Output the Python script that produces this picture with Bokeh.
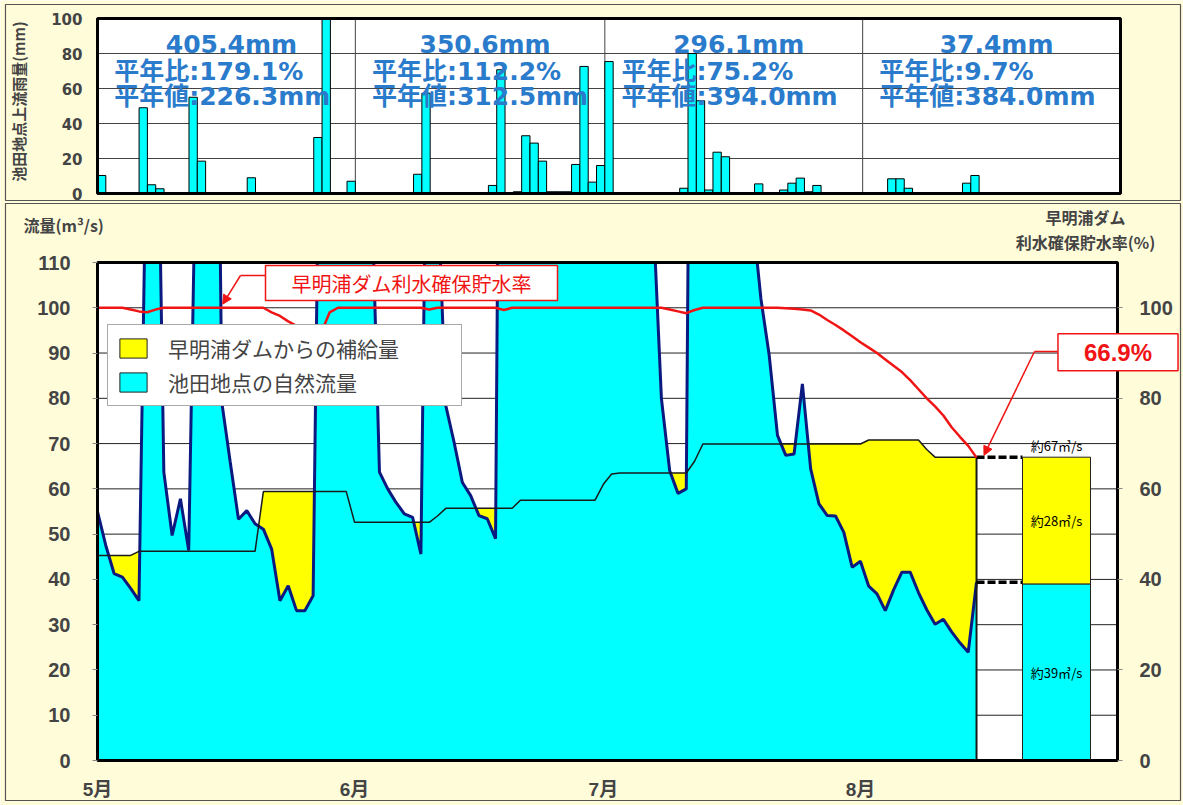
import numpy as np
from bokeh.plotting import figure
from bokeh.models import (Range1d, LinearAxis, FixedTicker, Label, Legend, LegendItem,
                          Arrow, NormalHead)
from bokeh.core.properties import value
from bokeh.embed import file_html
from bokeh.resources import INLINE

# ---------------- data ----------------
month_labels = ["5月", "6月", "7月", "8月"]
month_start_day = [0, 31, 61, 92]
month_length = [31, 30, 31, 31]

# daily rainfall upstream of Ikeda (mm)
rain_may = [10.3, 0, 0, 0, 0, 49, 5, 2.7, 0, 0, 0, 55, 18.5, 0, 0, 0, 0, 0, 9, 0,
            0, 0, 0, 0, 0, 0, 32, 217, 0, 0, 7]
rain_jun = [0, 0, 0, 0, 0, 0, 0, 11, 57.3, 0, 0, 0.5, 0, 0.5, 0, 0, 4.6, 70.7, 0, 1,
            33, 28.8, 18.5, 1, 1, 1, 16.6, 72.6, 6.5, 16]
rain_jul = [75.4, 0, 0, 0, 0, 0, 0, 0, 0, 3, 80, 53, 2, 23.6, 21, 0, 0, 0, 5.5, 0,
            0, 2, 5.9, 8.8, 1, 4.6, 0, 0, 0, 0, 0]
rain_aug = [0, 0, 0, 8.4, 8.4, 3, 0, 0, 0, 0, 0, 0, 5.9, 10.3, 0]

month_total_mm = [405.4, 350.6, 296.1, 37.4]
month_ratio_pct = [179.1, 112.2, 75.2, 9.7]
month_normal_mm = [226.3, 312.5, 394.0, 384.0]

# natural flow at Ikeda (m3/s)
natural_may = [55, 47.5, 41.3, 40.5, 38, 35.3, 150, 180, 63.7, 49.7, 57.8, 46.4, 150, 250,
               250, 79, 66, 53.3, 55.2, 52.3, 51.1, 46.7, 35.3, 38.6, 33.1, 33.1, 36.4, 183,
               400, 300, 220]
natural_jun = [180, 150, 131, 63.7, 60, 57, 54.5, 53.7, 45.6, 195, 128, 78.4, 70.3, 61.4,
               58.5, 54.1, 53.4, 49, 300, 350, 280, 250, 220, 190, 170, 160, 180, 300, 260, 230]
natural_jul = [320, 280, 230, 190, 160, 140, 121, 80, 64, 59, 60, 300, 400, 320, 280, 220,
               170, 140, 120, 102, 89.5, 71.8, 67.4, 67.7, 83.2, 64.4, 56.7, 54.1, 54, 50.4, 42.7]
natural_aug = [44, 38.5, 36.8, 33.1, 37.7, 41.6, 41.6, 37.1, 33.3, 30.1, 31.2, 28.4, 26,
               23.9, 39.4]

# flow after supply from Sameura dam (m3/s)
target_may = [45.3] * 5 + [46.2] * 15 + [59.4] * 11
target_jun = [52.6] * 10 + [54] + [55.7] * 9 + [57.5] * 10
target_jul = [61, 63.3] + [63.5] * 9 + [66.1] + [69.9] * 19
target_aug = [69.9] + [70.8] * 7 + [68.7] + [67] * 6

# Sameura dam storage rate (%)
storage_may = [100] * 4 + [99.6, 99.2, 99, 99.6] + [100] * 13 + [99, 98.2, 97, 96, 95.4, 95,
                                                                 94.6, 99, 100, 100]
storage_jun = [100] * 9 + [99.6] + [100] * 8 + [99.5] + [100] * 11
storage_jul = [100] * 8 + [99.6, 99.2, 98.8, 99.5] + [100] * 10 + [99.9, 99.8, 99.6, 99.4,
                                                                   98.5, 97.3, 96.2, 95, 93.7]
storage_aug = [92.4, 91.2, 90, 88.6, 87.2, 85.8, 84, 82, 80, 78.2, 76.2, 73.6, 71.5, 69.5, 66.9]

final_natural = 39
final_supply = 28
final_total = 67

# ---------------- derived ----------------
rain = np.array(rain_may + rain_jun + rain_jul + rain_aug, dtype=float)
rain_day = np.arange(len(rain))
has_rain = rain > 0
natural = np.array(natural_may + natural_jun + natural_jul + natural_aug, dtype=float)
target = np.array(target_may + target_jun + target_jul + target_aug, dtype=float)
storage = np.array(storage_may + storage_jun + storage_jul + storage_aug, dtype=float)
day = np.arange(len(natural), dtype=float)
last = day[-1]
NDAYS = sum(month_length)
FLOW_MAX, RAIN_MAX = 110, 100

# ---------------- layout (pixels of the 1183x805 page) ----------------
W, H = 1183, 805
FX0, FX1, FYB, FYT = 97, 1117, 760, 262     # flow plot area
RX0, RX1, RYB, RYT = 97, 1120, 193, 18      # rain plot area


def fxd(px): return (px - FX0) / (FX1 - FX0) * NDAYS
def fyd(py): return (FYB - py) / (FYB - FYT) * FLOW_MAX
def rxd(px): return (px - RX0) / (RX1 - RX0) * NDAYS
def ryd(py): return (RYB - py) / (RYB - RYT) * RAIN_MAX


def clip_top(xs, ys, top):
    ox, oy = [xs[0]], [min(ys[0], top)]
    for i in range(1, len(xs)):
        x0, y0, x1, y1 = xs[i - 1], ys[i - 1], xs[i], ys[i]
        if (y0 - top) * (y1 - top) < 0:
            t = (top - y0) / (y1 - y0)
            ox.append(x0 + t * (x1 - x0))
            oy.append(top)
        ox.append(x1)
        oy.append(min(y1, top))
    return np.array(ox), np.array(oy)


BG = "#FFFCDA"
JP = "'Noto Sans CJK JP'"
NUM = "'Liberation Sans', 'Noto Sans CJK JP'"
BLUE_FONT = "'DejaVu Sans', 'Noto Sans CJK JP'"
CYAN = "#00FFFF"
YELLOW = "#FFFF00"
RED = "#F01414"
NAVY = "#0C1A80"
BLUE = "#2A7BCB"

p = figure(width=W, height=H, x_range=Range1d(fxd(0), fxd(W)), y_range=Range1d(fyd(H), fyd(0)),
           output_backend="svg", toolbar_location=None, min_border=0,
           x_axis_type=None, y_axis_type=None,
           background_fill_color=BG, border_fill_color=BG, outline_line_color=None)
p.extra_x_ranges = {"rx": Range1d(rxd(0), rxd(W))}
p.extra_y_ranges = {"ry": Range1d(ryd(H), ryd(0))}
R = dict(x_range_name="rx", y_range_name="ry")

# panel boxes
p.quad(left=[rxd(5)], right=[rxd(1180)], bottom=[ryd(200)], top=[ryd(4)],
       fill_color=None, line_color="#555", line_width=1.2, **R)
p.quad(left=[fxd(5)], right=[fxd(1180)], bottom=[fyd(800)], top=[fyd(203)],
       fill_color=None, line_color="#555", line_width=1.2)

# ---------------- rain panel ----------------
p.quad(left=[0], right=[NDAYS], bottom=[0], top=[RAIN_MAX], fill_color="white",
       line_color=None, **R)
rg = [20, 40, 60, 80]
p.segment(x0=[0] * len(rg), x1=[NDAYS] * len(rg), y0=rg, y1=rg, line_color="#444",
          line_width=1, **R)
p.segment(x0=month_start_day[1:], x1=month_start_day[1:], y0=[0] * 3, y1=[RAIN_MAX] * 3,
          line_color="#444", line_width=1, **R)
p.quad(left=rain_day[has_rain], right=rain_day[has_rain] + 1, bottom=0,
       top=np.minimum(rain[has_rain], RAIN_MAX), fill_color=CYAN, line_color="black",
       line_width=1, **R)
p.quad(left=[0], right=[NDAYS], bottom=[0], top=[RAIN_MAX], fill_color=None,
       line_color="black", line_width=3, **R)

ms = np.array(month_start_day, dtype=float)
ml = np.array(month_length, dtype=float)
common = dict(text_font=value(BLUE_FONT), text_font_size="25px", text_font_style="bold",
              text_color=BLUE, text_baseline="middle", **R)
p.text(x=ms + ml / 2 + 0.6, y=[85.4] * 4, text=[f"{v:.1f}mm" for v in month_total_mm],
       text_align="center", **common)
p.text(x=ms + 2, y=[69.7] * 4, text=[f"平年比:{v:.1f}%" for v in month_ratio_pct],
       text_align="left", **common)
p.text(x=ms + 2, y=[55.4] * 4, text=[f"平年値:{v:.1f}mm" for v in month_normal_mm],
       text_align="left", **common)

rain_axis = LinearAxis(fixed_location=0, ticker=FixedTicker(ticks=[0, 20, 40, 60, 80, 100]),
                       axis_line_color=None, major_tick_line_color=None,
                       minor_tick_line_color=None, major_label_standoff=9,
                       major_label_text_font="DejaVu Sans", major_label_text_font_style="bold",
                       major_label_text_font_size="15px", **R)
p.add_layout(rain_axis, "left")
p.add_layout(Label(x=rxd(18), y=ryd(101), angle=np.pi / 2, text="池田地点上流雨量(mm)",
                   text_font=JP, text_font_style="bold", text_font_size="15px",
                   text_align="center", text_baseline="middle", **R))

# ---------------- flow panel ----------------
p.quad(left=[0], right=[NDAYS], bottom=[0], top=[FLOW_MAX], fill_color="white", line_color=None)
fg = list(range(10, FLOW_MAX, 10))
p.segment(x0=[0] * len(fg), x1=[NDAYS] * len(fg), y0=fg, y1=fg, line_color="#222", line_width=1)

nx, ny = clip_top(day, natural, FLOW_MAX)
p.varea(x=day, y1=0, y2=target, fill_color=YELLOW)
p.varea(x=nx, y1=0, y2=ny, fill_color=CYAN)
p.line(nx, ny, line_color=NAVY, line_width=3)
p.line(day, target, line_color="#1a1a1a", line_width=1.5)
p.segment(x0=[last], y0=[0], x1=[last], y1=[target[-1]], line_color="#1a1a1a", line_width=2)

bar_left, bar_right = fxd(1022), fxd(1090)
bar_center = (bar_left + bar_right) / 2
p.segment(x0=[last, last], x1=[bar_left, bar_left], y0=[target[-1], natural[-1]],
          y1=[target[-1], natural[-1]], line_color="black", line_width=3.5, line_dash="8 3")
bar = p.quad(left=[bar_left, bar_left], right=[bar_right, bar_right],
             bottom=[0, final_natural], top=[final_natural, final_natural + final_supply],
             fill_color=[CYAN, YELLOW], line_color="#222", line_width=1)
p.text(x=[bar_center], y=[final_total + 0.4], text=[f"約{final_total}㎥/s"],
       text_font=value(JP), text_font_size="13px", text_align="center", text_baseline="bottom")
p.text(x=[bar_center, bar_center], y=[final_natural + final_supply / 2, final_natural / 2],
       text=[f"約{final_supply}㎥/s", f"約{final_natural}㎥/s"],
       text_font=value(JP), text_font_size="13px", text_align="center", text_baseline="middle")

p.line(day, storage, line_color=RED, line_width=2.5)

p.quad(left=[0], right=[NDAYS], bottom=[0], top=[FLOW_MAX], fill_color=None,
       line_color="black", line_width=3)

# callout: storage-rate series name
p.line(x=[fxd(265), fxd(240)], y=[fyd(275), fyd(275)], line_color=RED, line_width=1.5)
p.add_layout(Arrow(x_start=fxd(240), y_start=fyd(275), x_end=15.1, y_end=storage[15] + 0.8,
                   line_color=RED, line_width=1.5,
                   end=NormalHead(size=9, fill_color=RED, line_color=RED)))
p.add_layout(Label(x=fxd(411), y=fyd(282.5), text="早明浦ダム利水確保貯水率", text_color=RED,
                   text_font=JP, text_font_size="20px", text_align="center",
                   text_baseline="middle", background_fill_color="white",
                   border_line_color=RED, border_line_width=1.5,
                   padding=dict(left=26, right=26, top=3, bottom=3)))
# callout: latest rate
p.line(x=[fxd(1057), fxd(1034)], y=[fyd(351), fyd(351)], line_color=RED, line_width=1.5)
p.add_layout(Arrow(x_start=fxd(1034), y_start=fyd(351), x_end=last + 0.9, y_end=storage[-1] + 0.5,
                   line_color=RED, line_width=1.5,
                   end=NormalHead(size=9, fill_color=RED, line_color=RED)))
p.add_layout(Label(x=fxd(1117.5), y=fyd(351.7), text=f"{storage[-1]:.1f}%", text_color=RED,
                   text_font=NUM, text_font_style="bold", text_font_size="24px",
                   text_align="center", text_baseline="middle", background_fill_color="white",
                   border_line_color=RED, border_line_width=1.5,
                   padding=dict(left=26, right=26, top=5, bottom=5)))

# axes of the flow panel
ax_common = dict(axis_line_color=None, major_tick_line_color="#888", major_tick_out=5,
                 major_tick_in=0, minor_tick_line_color=None, major_label_text_font=NUM,
                 major_label_text_font_style="bold", major_label_text_font_size="20px")
left_ax = LinearAxis(fixed_location=0, ticker=FixedTicker(ticks=list(range(0, 111, 10))),
                     major_label_standoff=22, **ax_common)
right_ax = LinearAxis(fixed_location=NDAYS, ticker=FixedTicker(ticks=list(range(0, 101, 20))),
                      major_label_standoff=17, **ax_common)
p.add_layout(left_ax, "left")
p.add_layout(right_ax, "right")
x_ax = LinearAxis(fixed_location=0, ticker=FixedTicker(ticks=month_start_day),
                  major_label_overrides={d: m for d, m in zip(month_start_day, month_labels)},
                  axis_line_color=None, major_tick_line_color=None, minor_tick_line_color=None,
                  major_label_text_font=NUM, major_label_text_font_style="bold",
                  major_label_text_font_size="19px", major_label_standoff=12)
p.add_layout(x_ax, "below")

# legend
legend = Legend(items=[LegendItem(label=value("早明浦ダムからの補給量"), renderers=[bar], index=1),
                       LegendItem(label=value("池田地点の自然流量"), renderers=[bar], index=0)],
                location=(107, H - 406), label_text_font=JP, label_text_font_size="21px",
                glyph_width=34, glyph_height=24, padding=8, spacing=4, label_standoff=18,
                label_width=285, margin=0, border_line_color="#555", border_line_width=1,
                background_fill_color="white", background_fill_alpha=1)
p.add_layout(legend)

# titles
p.add_layout(Label(x=fxd(23), y=fyd(224), text="流量(m³/s)", text_font=JP,
                   text_font_style="bold", text_font_size="16px", text_align="left",
                   text_baseline="middle"))
p.add_layout(Label(x=fxd(1085), y=fyd(216), text="早明浦ダム", text_font=JP,
                   text_font_style="bold", text_font_size="16px", text_align="center",
                   text_baseline="middle"))
p.add_layout(Label(x=fxd(1085), y=fyd(241), text="利水確保貯水率(%)", text_font=JP,
                   text_font_style="bold", text_font_size="16px", text_align="center",
                   text_baseline="middle"))

open("out.html", "w").write(file_html(p, INLINE))
